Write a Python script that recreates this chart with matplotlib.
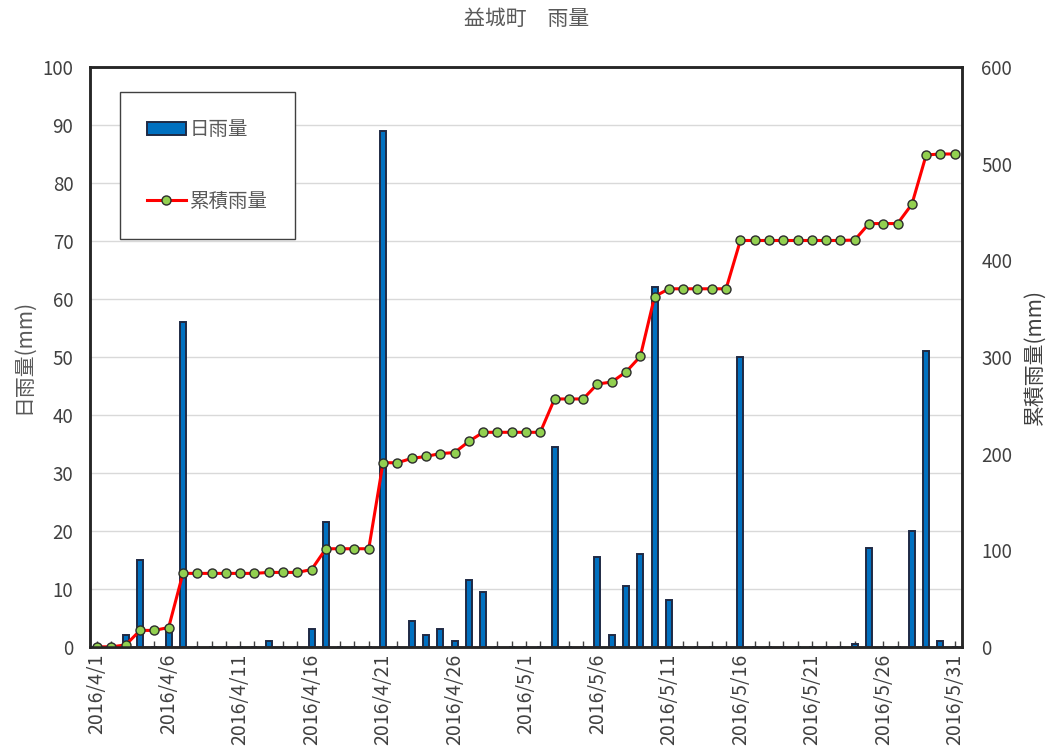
"""益城町 rainfall, April-May 2016: daily bars + cumulative line on twin axes."""

import matplotlib

matplotlib.use("Agg")
import matplotlib.pyplot as plt
import numpy as np
import pandas as pd
from matplotlib.lines import Line2D
from matplotlib.patches import Patch

plt.rcParams["font.family"] = ["Noto Sans CJK JP", "DejaVu Sans"]

TITLE = "益城町　雨量"
DATES = pd.date_range("2016-04-01", "2016-05-31", freq="D")
# daily rainfall (mm), 4/1 .. 5/31
DAILY_MM = [
    0, 0, 2, 15, 0, 3, 56, 0, 0, 0,          # 4/1 - 4/10
    0, 0, 1, 0, 0, 3, 21.5, 0, 0, 0,         # 4/11 - 4/20
    89, 0, 4.5, 2, 3, 1, 11.5, 9.5, 0, 0,    # 4/21 - 4/30
    0, 0, 34.5, 0, 0, 15.5, 2, 10.5, 16, 62,  # 5/1 - 5/10
    8, 0, 0, 0, 0, 50, 0, 0, 0, 0,           # 5/11 - 5/20
    0, 0, 0, 0.5, 17, 0, 0, 20, 51, 1,       # 5/21 - 5/30
    0,                                        # 5/31
]
TICK_EVERY = 5

GREY = "#595959"
BAR_FILL = "#0070C0"
BAR_EDGE = "#1F2A44"

daily = np.array(DAILY_MM, dtype=float)
cumulative = np.cumsum(daily)
x = np.arange(len(DATES))
labels = [f"{d.year}/{d.month}/{d.day}" for d in DATES]

fig = plt.figure(figsize=(10.53, 7.53), dpi=100)
ax = fig.add_axes([0.0855, 0.141, 0.828, 0.770])
ax2 = ax.twinx()

ax.set_zorder(1)
ax2.set_zorder(2)
ax2.patch.set_visible(False)

ax.bar(x, daily, width=0.42, color=BAR_FILL, edgecolor=BAR_EDGE, linewidth=1.4, zorder=3)
ax2.plot(
    x, cumulative, color="#FF0000", linewidth=2.2,
    marker="o", markersize=6.5, markerfacecolor="#92D050",
    markeredgecolor="#2B2B2B", markeredgewidth=1.0,
)

ax.set_xlim(-0.5, len(x) - 0.5)
ax.set_ylim(0, 100)
ax2.set_ylim(0, 600)
ax.set_yticks(np.arange(0, 101, 10))
ax2.set_yticks(np.arange(0, 601, 100))
ax.grid(axis="y", color="#D9D9D9", linewidth=1.0, zorder=0)
ax.set_axisbelow(True)

ax.set_xticks(x[::TICK_EVERY])
ax.set_xticklabels(labels[::TICK_EVERY], rotation=90, fontsize=14, color="#404040")
ax.set_xticks(x, minor=True)
ax.tick_params(axis="x", which="both", direction="in", length=4, width=1, color="#404040", pad=5)
ax.tick_params(axis="y", length=0, labelsize=13.5, labelcolor="#404040", pad=12)
ax2.tick_params(axis="y", length=0, labelsize=13.5, labelcolor="#404040", pad=14)

for a in (ax, ax2):
    for side in a.spines.values():
        side.set_linewidth(1.8)
        side.set_color("#262626")

ax.set_ylabel("日雨量(mm)", fontsize=15, color=GREY, labelpad=6)
ax2.set_ylabel("累積雨量(mm)", fontsize=15, color="#404040", rotation=90, labelpad=8)
fig.suptitle(TITLE, y=0.99, fontsize=15, color=GREY)

handles = [
    Patch(facecolor=BAR_FILL, edgecolor=BAR_EDGE, linewidth=1.4),
    Line2D([0], [0], color="#FF0000", linewidth=2.2, marker="o", markersize=6.5,
           markerfacecolor="#92D050", markeredgecolor="#2B2B2B"),
]
leg = ax2.legend(
    handles, ["日雨量", "累積雨量"],
    loc="upper left", bbox_to_anchor=(0.034, 0.957), borderaxespad=0, fontsize=14,
    labelspacing=2.6, borderpad=1.4, handlelength=2.0, handletextpad=0.2,
    fancybox=False, framealpha=1, edgecolor="#404040",
)
leg.get_frame().set_linewidth(1.0)
for t in leg.get_texts():
    t.set_color(GREY)

fig.savefig("out.png", dpi=100)
